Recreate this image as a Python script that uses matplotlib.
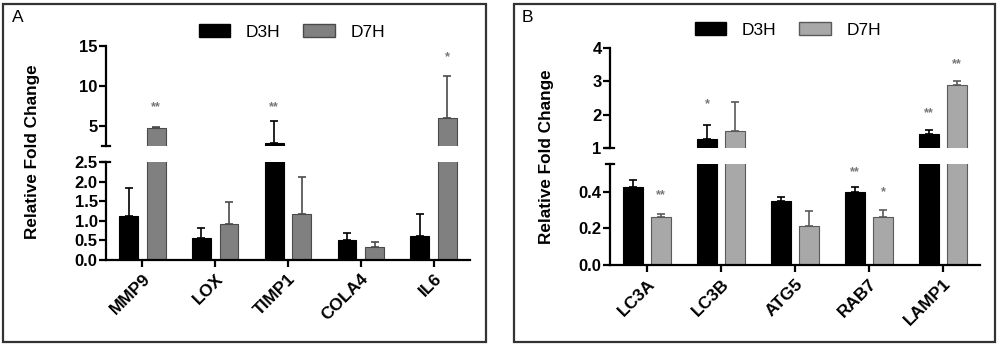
import numpy as np
import matplotlib
matplotlib.use("Agg")
import matplotlib.pyplot as plt
from matplotlib.patches import Rectangle, Patch

plt.rcParams['font.family'] = ['Liberation Sans', 'DejaVu Sans']

# DATA
# panel A
genes_a = ['MMP9', 'LOX', 'TIMP1', 'COLA4', 'IL6']
d3h_a = [1.13, 0.55, 2.9, 0.52, 0.62]
d3h_a_err = [0.71, 0.27, 2.7, 0.17, 0.55]
d7h_a = [4.75, 0.92, 1.18, 0.32, 5.95]
d7h_a_err = [0.1, 0.55, 0.94, 0.14, 5.3]
stars_a_d3h = ['', '', '**', '', '']
stars_a_d7h = ['**', '', '', '', '*']
# panel B
genes_b = ['LC3A', 'LC3B', 'ATG5', 'RAB7', 'LAMP1']
d3h_b = [0.427, 1.27, 0.35, 0.40, 1.41]
d3h_b_err = [0.04, 0.43, 0.02, 0.025, 0.12]
d7h_b = [0.263, 1.52, 0.214, 0.263, 2.9]
d7h_b_err = [0.017, 0.85, 0.082, 0.037, 0.1]
stars_b_d3h = ['', '*', '', '**', '**']
stars_b_d7h = ['**', '', '', '*', '**']

# star heights (data units, annotation placement)
stars_a_y_d3h = [0, 0, 7.4, 0, 0]
stars_a_y_d7h = [7.4, 0, 0, 0, 13.6]
stars_b_y_d3h = [0, 2.3, 0, 0.51, 2.05]
stars_b_y_d7h = [0.38, 0, 0, 0.40, 3.5]

W, H = 1000, 346
fig = plt.figure(figsize=(W / 100, H / 100), dpi=100)


def px_axes(x0, y0, x1, y1):
    return fig.add_axes([x0 / W, 1 - y1 / H, (x1 - x0) / W, (y1 - y0) / H])


def panel(genes, d3h, d3h_err, d7h, d7h_err, st3, st7, sy3, sy7,
          top_box, bot_box, top_lim, bot_lim, top_ticks, bot_ticks, fmt,
          gray, gray_edge):
    ax_t = px_axes(*top_box)
    ax_b = px_axes(*bot_box)
    x = np.arange(len(genes))
    off, bw = 0.19, 0.26
    for ax in (ax_t, ax_b):
        ax.bar(x - off, d3h, bw, color='black', edgecolor='black', lw=0.8)
        ax.bar(x + off, d7h, bw, color=gray, edgecolor=gray_edge, lw=0.8)
        ax.errorbar(x - off, d3h, yerr=[np.zeros(len(x)), d3h_err], fmt='none',
                    ecolor='black', elinewidth=1.2, capsize=3, capthick=1.2)
        ax.errorbar(x + off, d7h, yerr=[np.zeros(len(x)), d7h_err], fmt='none',
                    ecolor=gray_edge, elinewidth=1.2, capsize=3, capthick=1.2)
        ax.set_xlim(-0.5, len(x) - 0.5)
        for s in ('top', 'right'):
            ax.spines[s].set_visible(False)
        ax.spines['left'].set_linewidth(1.6)
        ax.spines['bottom'].set_linewidth(1.6)
        ax.tick_params(axis='y', direction='out', length=5, width=1.6,
                       labelsize=12, pad=1)
    # significance stars, in whichever segment holds them
    for xs, labels, ys in ((x - off, st3, sy3), (x + off, st7, sy7)):
        for i in range(len(x)):
            if labels[i]:
                ax = ax_t if ys[i] >= top_lim[0] else ax_b
                ax.text(xs[i], ys[i], labels[i], ha='center', va='center',
                        color='#777777', fontsize=9, fontweight='bold')
    ax_t.set_ylim(*top_lim)
    ax_b.set_ylim(*bot_lim)
    ax_t.set_yticks(top_ticks)
    ax_b.set_yticks(bot_ticks)
    ax_b.set_yticklabels([fmt % v for v in bot_ticks], fontweight='bold')
    ax_t.set_yticklabels(['%g' % v for v in top_ticks], fontweight='bold')
    ax_t.spines['bottom'].set_visible(False)
    ax_t.set_xticks([])
    ax_b.set_xticks(x)
    ax_b.set_xticklabels(genes, rotation=45, ha='right', rotation_mode='anchor',
                         fontweight='bold', fontsize=12.5)
    ax_b.tick_params(axis='x', direction='out', length=5, width=1.6, pad=3)
    # break marks
    ax_t.plot([-0.012, 0.012], [0, 0], transform=ax_t.transAxes, color='black',
              lw=1.6, clip_on=False)
    ax_b.plot([-0.012, 0.012], [1, 1], transform=ax_b.transAxes, color='black',
              lw=1.6, clip_on=False)
    return ax_t, ax_b


panel(genes_a, d3h_a, d3h_a_err, d7h_a, d7h_a_err, stars_a_d3h, stars_a_d7h,
      stars_a_y_d3h, stars_a_y_d7h,
      (106, 46, 470, 146), (106, 162, 470, 260), (2.5, 15), (0, 2.5),
      [5, 10, 15], [0, 0.5, 1.0, 1.5, 2.0, 2.5], '%.1f', '#808080', '#4a4a4a')
panel(genes_b, d3h_b, d3h_b_err, d7h_b, d7h_b_err, stars_b_d3h, stars_b_d7h,
      stars_b_y_d3h, stars_b_y_d7h,
      (610, 48, 980, 148), (610, 164, 980, 265), (1, 4), (0, 0.553),
      [1, 2, 3, 4], [0, 0.2, 0.4], '%.1f', '#a8a8a8', '#5a5a5a')

# panel borders
for x0, x1 in ((3, 486), (514, 995)):
    fig.patches.append(Rectangle((x0 / W, 1 - 342 / H), (x1 - x0) / W, 338 / H,
                                 transform=fig.transFigure, fill=False,
                                 edgecolor='#333333', lw=1.6))

fig.text(12 / W, 1 - 18 / H, 'A', fontsize=12.5, va='center', ha='left')
fig.text(522 / W, 1 - 17 / H, 'B', fontsize=12.5, va='center', ha='left')

fig.text(33 / W, 1 - 152 / H, 'Relative Fold Change', rotation=90, fontsize=12.3,
         fontweight='bold', ha='center', va='center')
fig.text(547 / W, 1 - 157 / H, 'Relative Fold Change', rotation=90, fontsize=12.3,
         fontweight='bold', ha='center', va='center')

for cx, cy, g, ge in ((292, 32, '#808080', '#4a4a4a'), (788, 30, '#a8a8a8', '#5a5a5a')):
    handles = [Patch(facecolor='black', edgecolor='black', label='D3H'),
               Patch(facecolor=g, edgecolor=ge, label='D7H')]
    fig.legend(handles=handles, loc='center', bbox_to_anchor=(cx / W, 1 - cy / H),
               ncol=2, frameon=False, fontsize=12.5, handlelength=1.8,
               handleheight=0.7, handletextpad=0.9, columnspacing=1.3)

fig.savefig('out.png', dpi=100)
